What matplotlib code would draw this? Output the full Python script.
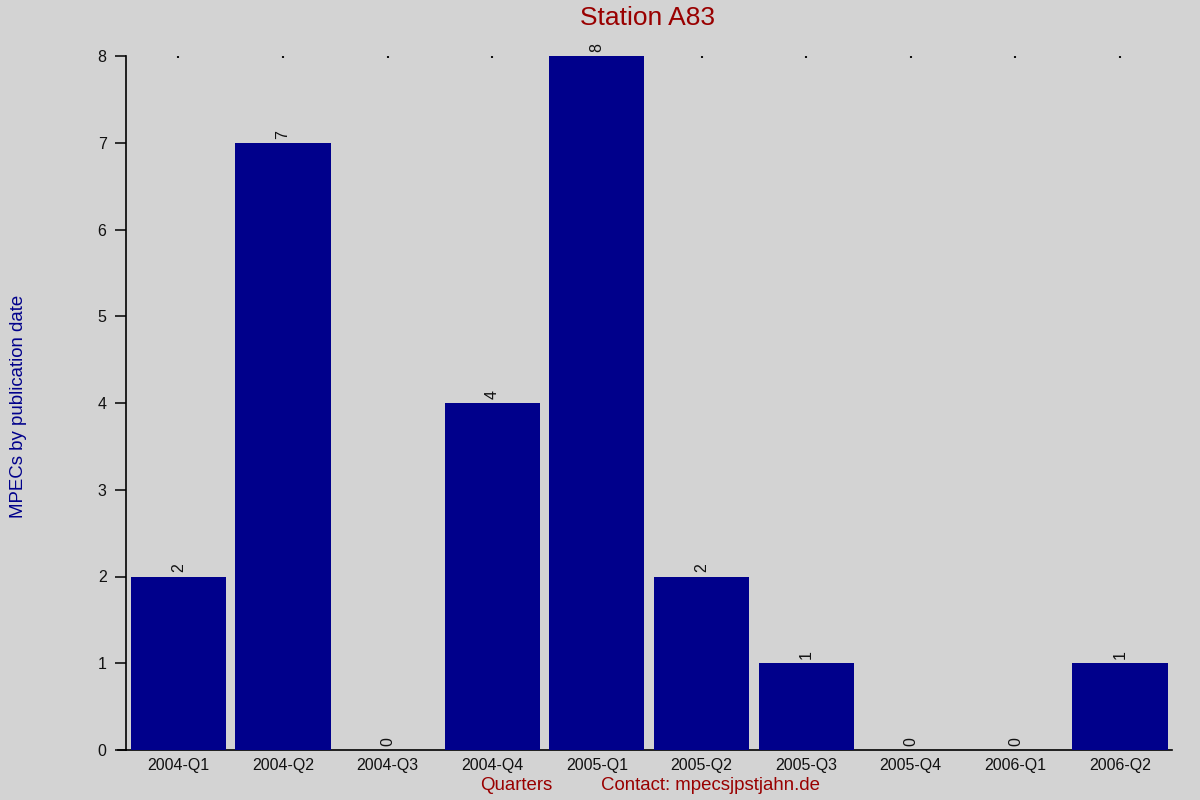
import matplotlib
matplotlib.use("Agg")
import matplotlib.pyplot as plt

# quarterly MPEC counts for the station
quarters = ['2004-Q1', '2004-Q2', '2004-Q3', '2004-Q4', '2005-Q1',
            '2005-Q2', '2005-Q3', '2005-Q4', '2006-Q1', '2006-Q2']
mpec_counts = [2, 7, 0, 4, 8, 2, 1, 0, 0, 1]
y_ticks = [0, 1, 2, 3, 4, 5, 6, 7, 8]

bg = '#d3d3d3'
plt.rcParams['font.family'] = ['Liberation Sans', 'DejaVu Sans']

fig = plt.figure(figsize=(12, 8), dpi=100, facecolor=bg)
ax = fig.add_axes([0.105, 0.0625, 0.872, 0.8675])
ax.set_facecolor(bg)

x = list(range(len(quarters)))
ax.bar(x, mpec_counts, width=0.91, color='#00008b', zorder=3)

# value labels above bars, rotated
for xi, v in zip(x, mpec_counts):
    ax.annotate(str(v), (xi, v), xytext=(0, 3), textcoords='offset points',
                rotation=90, ha='center', va='bottom', fontsize=11.5, color='#111111')

ax.set_xlim(-0.5, len(quarters) - 0.5)
ax.set_ylim(0, max(y_ticks))
ax.set_yticks(y_ticks)
ax.set_xticks(x)
ax.set_xticklabels(quarters)

for s in ['top', 'right']:
    ax.spines[s].set_visible(False)
ax.spines['left'].set_linewidth(1.2)
ax.spines['bottom'].set_linewidth(1.2)

ax.tick_params(axis='y', length=8, width=1.2, labelsize=11.5, pad=6, colors='#111111')
ax.tick_params(axis='x', bottom=False, top=True, direction='in', length=1.2,
               width=1.5, labelsize=11.5, pad=6, colors='#111111')
for t in ax.xaxis.get_ticklines():
    t.set_color('black')

# bottom axis line extends past the y axis by the tick length
ax.plot([-0.008, 0], [0, 0], transform=ax.transAxes, color='black',
        lw=1.2, clip_on=False)

fig.text(0.54, 0.978, 'Station A83', ha='center', va='center', fontsize=19,
         color='#990000')
fig.text(0.008, 0.4925, 'MPECs by publication date', rotation=90, va='center',
         ha='left', fontsize=13.4, color='#00008b')
fig.text(0.43, 0.018, 'Quarters', ha='center', va='center', fontsize=13.4,
         color='#990000')
fig.text(0.592, 0.018, 'Contact: mpecsjpstjahn.de', ha='center', va='center',
         fontsize=13.4, color='#990000')

fig.savefig('out.png', dpi=100, facecolor=bg)
